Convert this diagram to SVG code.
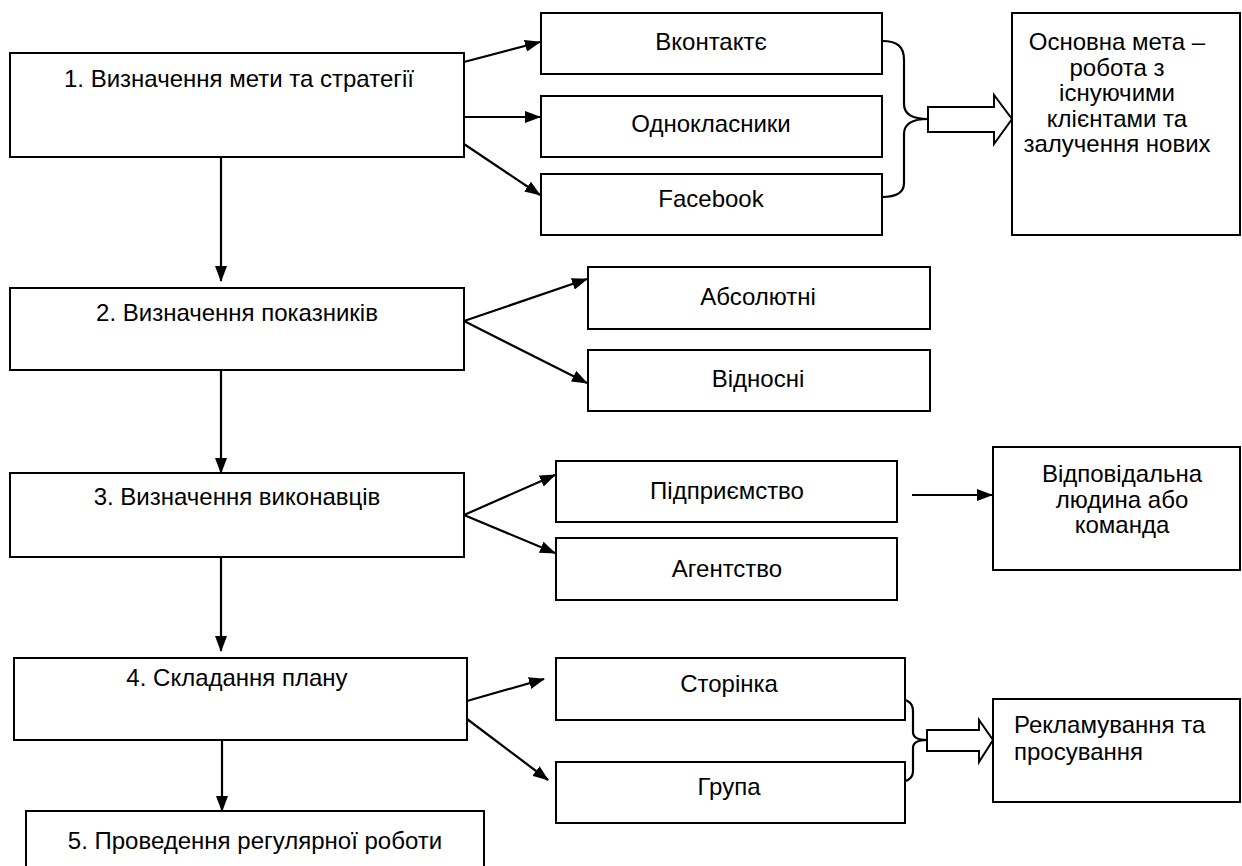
<svg xmlns="http://www.w3.org/2000/svg" width="1242" height="866" viewBox="0 0 1242 866">
<style>
.box{fill:#fff;stroke:#000;stroke-width:2}
.t{font-family:"Liberation Sans",Arial,sans-serif;font-size:24px;fill:#000;text-anchor:middle}
.tl{font-family:"Liberation Sans",Arial,sans-serif;font-size:24px;fill:#000}
.ln{fill:none;stroke:#000;stroke-width:2.2}
.blk{fill:#fff;stroke:#000;stroke-width:2}
</style>
<defs>
<marker id="ah" markerWidth="16" markerHeight="12" refX="15" refY="6" orient="auto" markerUnits="userSpaceOnUse">
<path d="M0,0 L16,6 L0,12 Z" fill="#000"/>
</marker>
</defs>
<rect width="1242" height="866" fill="#fff"/>
<g id="connectors">
<line class="ln" x1="464" y1="62" x2="540" y2="42" marker-end="url(#ah)"/>
<line class="ln" x1="464" y1="117" x2="540" y2="117" marker-end="url(#ah)"/>
<line class="ln" x1="464" y1="144" x2="540" y2="195" marker-end="url(#ah)"/>
<line class="ln" x1="221" y1="157" x2="221" y2="281" marker-end="url(#ah)"/>
<line class="ln" x1="464" y1="321" x2="587" y2="279" marker-end="url(#ah)"/>
<line class="ln" x1="464" y1="321" x2="587" y2="383" marker-end="url(#ah)"/>
<line class="ln" x1="221" y1="370" x2="221" y2="473" marker-end="url(#ah)"/>
<line class="ln" x1="464" y1="515" x2="555" y2="475" marker-end="url(#ah)"/>
<line class="ln" x1="464" y1="515" x2="555" y2="553" marker-end="url(#ah)"/>
<line class="ln" x1="912" y1="495" x2="992" y2="495" marker-end="url(#ah)"/>
<line class="ln" x1="221" y1="557" x2="221" y2="651" marker-end="url(#ah)"/>
<line class="ln" x1="467" y1="701" x2="544" y2="679" marker-end="url(#ah)"/>
<line class="ln" x1="467" y1="719" x2="548" y2="780" marker-end="url(#ah)"/>
<line class="ln" x1="222" y1="740" x2="222" y2="811" marker-end="url(#ah)"/>
<path class="ln" d="M882,41 C898,41 904,47 904,60 L904,104 C904,114 911,119 928,119 C911,119 904,124 904,134 L904,183 C904,192 898,197 882,197"/>
<polygon class="blk" points="928,107 994,107 994,95 1012,119 994,144 994,132 928,132"/>
<path class="ln" d="M897,699 C908,699 913,703 913,711 L913,732 C913,737 918,740 927,740 C918,740 913,743 913,748 L913,771 C913,778 908,782 897,782"/>
<polygon class="blk" points="927,730 979,730 979,720 993,740 979,762 979,751 927,751"/>
</g>
<g id="n1"><rect class="box" x="10" y="53" width="454" height="104"/><text class="t" x="239" y="87">1. Визначення мети та стратегії</text></g>
<g id="n_vk"><rect class="box" x="541" y="13" width="341" height="61"/><text class="t" x="711" y="50">Вконтактє</text></g>
<g id="n_ok"><rect class="box" x="541" y="96" width="341" height="61"/><text class="t" x="711" y="132">Однокласники</text></g>
<g id="n_fb"><rect class="box" x="541" y="174" width="341" height="61"/><text class="t" x="711" y="207">Facebook</text></g>
<g id="n_goal"><rect class="box" x="1012" y="13" width="228" height="222"/>
<text class="t" x="1117" y="50">Основна мета –</text>
<text class="t" x="1117" y="76">робота з</text>
<text class="t" x="1117" y="101">існуючими</text>
<text class="t" x="1117" y="127">клієнтами та</text>
<text class="t" x="1117" y="152">залучення нових</text></g>
<g id="n2"><rect class="box" x="10" y="288" width="454" height="82"/><text class="t" x="237" y="321">2. Визначення показників</text></g>
<g id="n_abs"><rect class="box" x="588" y="267" width="342" height="62"/><text class="t" x="758" y="305">Абсолютні</text></g>
<g id="n_rel"><rect class="box" x="588" y="350" width="342" height="61"/><text class="t" x="758" y="387">Відносні</text></g>
<g id="n3"><rect class="box" x="10" y="473" width="454" height="84"/><text class="t" x="237" y="505">3. Визначення виконавців</text></g>
<g id="n_ent"><rect class="box" x="556" y="461" width="341" height="61"/><text class="t" x="727" y="499">Підприємство</text></g>
<g id="n_ag"><rect class="box" x="556" y="538" width="341" height="62"/><text class="t" x="727" y="577">Агентство</text></g>
<g id="n_resp"><rect class="box" x="993" y="447" width="247" height="123"/>
<text class="t" x="1122" y="482">Відповідальна</text>
<text class="t" x="1122" y="508">людина або</text>
<text class="t" x="1122" y="533">команда</text></g>
<g id="n4"><rect class="box" x="14" y="658" width="453" height="82"/><text class="t" x="237" y="686">4. Складання плану</text></g>
<g id="n_page"><rect class="box" x="556" y="658" width="349" height="62"/><text class="t" x="729" y="692">Сторінка</text></g>
<g id="n_group"><rect class="box" x="556" y="762" width="349" height="61"/><text class="t" x="729" y="795">Група</text></g>
<g id="n_adv"><rect class="box" x="993" y="699" width="247" height="103"/>
<text class="tl" x="1014" y="733">Рекламування та</text>
<text class="tl" x="1014" y="760">просування</text></g>
<g id="n5"><rect class="box" x="26" y="811" width="458" height="70"/><text class="t" x="255" y="849">5. Проведення регулярної роботи</text></g>
</svg>
